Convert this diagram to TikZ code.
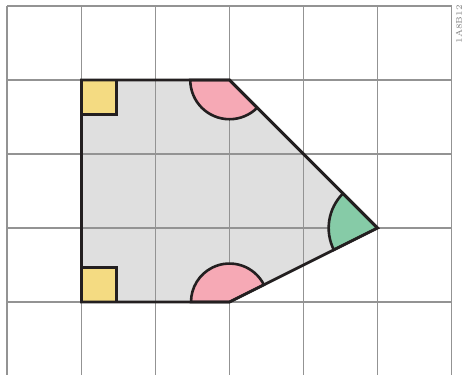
\documentclass[tikz,border=0pt]{standalone}
\usetikzlibrary{calc}
\definecolor{gfill}{HTML}{DFDFDF}
\definecolor{gline}{HTML}{939393}
\definecolor{pinkc}{HTML}{F6A9B5}
\definecolor{greenc}{HTML}{86CBA7}
\definecolor{yellowc}{HTML}{F4DB82}
\definecolor{ink}{HTML}{231F20}
\tikzset{
  gridline/.style={gline, line width=0.75pt},
  outline/.style={ink, line width=1.1pt, line join=miter},
  mark sector/.style={draw=ink, line width=1pt},
}
\begin{document}
\begin{tikzpicture}
\useasboundingbox (-0.101,-0.986) rectangle (6.155,4.081);
% vertices
\coordinate (A) at (1,3);
\coordinate (B) at (3,3);
\coordinate (C) at (5,1);
\coordinate (D) at (3,0);
\coordinate (E) at (1,0);
% fill
\fill[gfill] (A) -- (B) -- (C) -- (D) -- (E) -- cycle;
% grid
\foreach \x in {0,...,6} \draw[gridline] (\x,4) -- (\x,-1.1);
\foreach \y in {0,...,4} \draw[gridline] (0,\y) -- (6,\y);
% angle marks
\filldraw[fill=pinkc, mark sector] (B) -- ++(180:0.53) arc[start angle=180, end angle=315, radius=0.53] -- cycle;
\filldraw[fill=pinkc, mark sector] (D) -- ++(26.565:0.52) arc[start angle=26.565, end angle=180, radius=0.52] -- cycle;
\filldraw[fill=greenc, mark sector] (C) -- ++(135:0.66) arc[start angle=135, end angle=206.565, radius=0.66] -- cycle;
\filldraw[fill=yellowc, mark sector] (A) rectangle ++(0.47,-0.47);
\filldraw[fill=yellowc, mark sector] (E) rectangle ++(0.47,0.47);
% outline
\draw[outline] (A) -- (B) -- (C) -- (D) -- (E) -- cycle;
% tiny code
\node[rotate=90, gray, font=\fontsize{3.2}{4}\selectfont, inner sep=0pt, anchor=east] (code) at (6.1,4.02) {1A8B12};
\end{tikzpicture}
\end{document}
